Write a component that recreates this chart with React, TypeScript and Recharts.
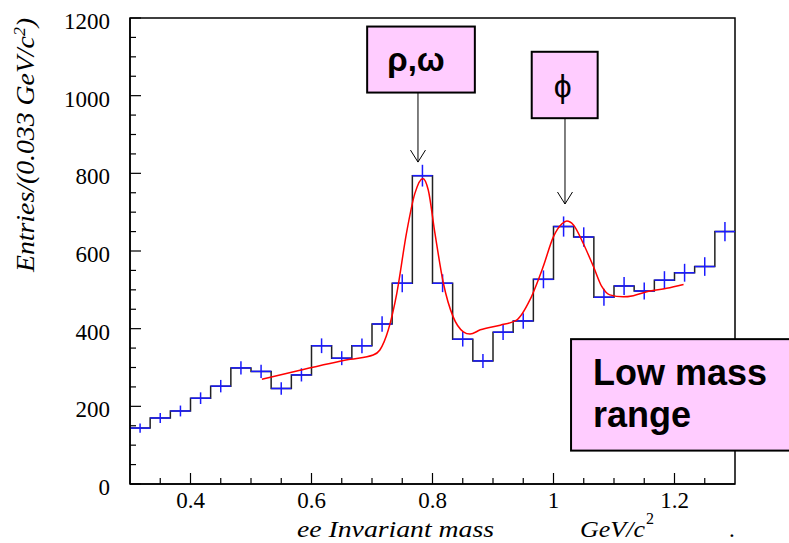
import React from 'react';
import {
  ComposedChart,
  Line,
  Scatter,
  ErrorBar,
  XAxis,
  YAxis,
  ReferenceArea,
  ReferenceLine,
} from 'recharts';

// ---- data ----
const binLowEdges = [
  0.3, 0.3333, 0.3667, 0.4, 0.4333, 0.4667, 0.5, 0.5333, 0.5667, 0.6,
  0.6333, 0.6667, 0.7, 0.7333, 0.7667, 0.8, 0.8333, 0.8667, 0.9, 0.9333,
  0.9667, 1.0, 1.0333, 1.0667, 1.1, 1.1333, 1.1667, 1.2, 1.2333, 1.2667,
];
const histUpperEdge = 1.3;
const binHalfWidth = 0.01667;
const entries = [
  144, 170, 188, 221, 252, 299, 290, 246, 281, 356,
  324, 356, 412, 517, 794, 517, 373, 317, 391, 420,
  527, 663, 636, 481, 510, 497, 525, 544, 560, 650,
];
const entryErrors = [
  12, 13, 14, 15, 16, 17, 17, 16, 17, 19,
  18, 19, 20, 23, 28, 23, 19, 18, 20, 20,
  23, 26, 25, 22, 23, 22, 23, 23, 24, 25,
];

const fitMass = [
  0.518, 0.581, 0.664, 0.702, 0.713, 0.727, 0.741, 0.757, 0.771, 0.784,
  0.793, 0.804, 0.818, 0.834, 0.851, 0.862, 0.879, 0.912, 0.939, 0.961,
  0.983, 1.0, 1.014, 1.022, 1.033, 1.049, 1.066, 1.08, 1.093, 1.115,
  1.132, 1.154, 1.187, 1.215,
];
const fitValue = [
  270, 293, 321, 332, 345, 397, 491, 646, 749, 787,
  757, 646, 517, 431, 392, 386, 397, 409, 422, 474,
  560, 637, 670, 677, 667, 620, 560, 508, 487, 482,
  485, 495, 504, 514,
];

const xMajorTicks = [0.4, 0.6, 0.8, 1, 1.2];
const xAllTicks = [0.35, 0.4, 0.45, 0.5, 0.55, 0.6, 0.65, 0.7, 0.75, 0.8, 0.85, 0.9, 0.95, 1, 1.05, 1.1, 1.15, 1.2, 1.25];
const yMajorTicks = [0, 200, 400, 600, 800, 1000, 1200];
const yAllTicks = [
  0, 50, 100, 150, 200, 250, 300, 350, 400, 450, 500, 550, 600, 650,
  700, 750, 800, 850, 900, 950, 1000, 1050, 1100, 1150, 1200,
];

// annotation boxes & arrows (data coordinates)
const rhoBox = { x1: 0.692, x2: 0.87, y1: 1008, y2: 1178, text: 'ρ,ω' };
const phiBox = { x1: 0.964, x2: 1.073, y1: 942, y2: 1113, text: 'ϕ' };
const rangeBox = { x1: 1.029, x2: 1.41, y1: 86, y2: 373, lines: ['Low mass', 'range'] };
const rhoArrow = { x: 0.776, from: 1008, to: 829 };
const phiArrow = { x: 1.019, from: 942, to: 721 };

// ---- derived tables ----
const histData = [
  ...binLowEdges.map((x, i) => ({ x, y: entries[i] })),
  { x: histUpperEdge, y: entries[entries.length - 1] },
];
const pointData = binLowEdges.map((x, i) => ({
  x: x + binHalfWidth,
  y: entries[i],
  ex: binHalfWidth,
  ey: entryErrors[i],
}));
const fitData = fitMass.map((x, i) => ({ x, y: fitValue[i] }));

const SERIF = '"Liberation Serif", "Times New Roman", serif';
const SANS = '"Liberation Sans", Arial, Helvetica, sans-serif';
const PINK = '#ffccff';

const isMajor = (list: number[], v: number) => list.some((m) => Math.abs(m - v) < 1e-9);

const XTick = (props: any) => {
  const v = props.payload.value;
  const major = isMajor(xMajorTicks, v);
  return (
    <g>
      <line x1={props.x} x2={props.x} y1={props.y} y2={props.y - (major ? 11 : 6)} stroke="#000" strokeWidth={1.2} />
      {major && (
        <text x={props.x} y={props.y + 24} textAnchor="middle" fontFamily={SERIF} fontSize={23} fill="#000">
          {v}
        </text>
      )}
    </g>
  );
};

const YTick = (props: any) => {
  const v = props.payload.value;
  const major = isMajor(yMajorTicks, v);
  return (
    <g>
      <line x1={props.x} x2={props.x + (major ? 11 : 6)} y1={props.y} y2={props.y} stroke="#000" strokeWidth={1.2} />
      {major && (
        <text x={props.x - 20} y={props.y + 11} textAnchor="end" fontFamily={SERIF} fontSize={23} fill="#000">
          {v}
        </text>
      )}
    </g>
  );
};

const YTitle = () => (
  <text
    transform="rotate(-90)"
    x={-145}
    y={34}
    textAnchor="middle"
    fontFamily={SERIF}
    fontStyle="italic"
    fontSize={25}
    fill="#000"
    textLength={254}
    lengthAdjust="spacingAndGlyphs"
  >
    Entries/(0.033 GeV/c
    <tspan dy={-9} fontSize={16}>2</tspan>
    <tspan dy={9}>)</tspan>
  </text>
);

const XTitle = () => (
  <g fontFamily={SERIF} fill="#000">
    <text x={297} y={537} fontStyle="italic" fontSize={23} textLength={197} lengthAdjust="spacingAndGlyphs">
      ee Invariant mass
    </text>
    <text x={580} y={537} fontStyle="italic" fontSize={23} textLength={65} lengthAdjust="spacingAndGlyphs">
      GeV/c
    </text>
    <text x={646} y={524} fontSize={16}>2</text>
    <text x={729} y={537} fontSize={23}>.</text>
  </g>
);

const Arrow = (props: any) => {
  const { x1, y1, x2, y2 } = props;
  return (
    <g stroke="#000" strokeWidth={1} fill="none">
      <line x1={x1} y1={y1} x2={x2} y2={y2} />
      <line x1={x2 - 7.5} y1={y2 - 12} x2={x2} y2={y2} />
      <line x1={x2 + 7.5} y1={y2 - 12} x2={x2} y2={y2} />
    </g>
  );
};

const BoxWithText = (text: string, fontSize: number, bold: boolean, dx: number, dy: number) => (props: any) => {
  const { x, y, width, height } = props;
  return (
    <g>
      <rect x={x} y={y} width={width} height={height} fill={PINK} stroke="#000" strokeWidth={2} />
      <text
        x={x + width / 2 + dx}
        y={y + height / 2 + dy}
        textAnchor="middle"
        fontFamily={SANS}
        fontWeight={bold ? 'bold' : 'normal'}
        fontSize={fontSize}
        fill="#000"
      >
        {text}
      </text>
    </g>
  );
};

const RangeBox = (props: any) => {
  const { x, y, width, height } = props;
  return (
    <g>
      <rect x={x} y={y} width={width} height={height} fill={PINK} stroke="#000" strokeWidth={2} />
      <text fontFamily={SANS} fontWeight="bold" fontSize={36} fill="#000">
        <tspan x={x + 22} y={y + 46}>{rangeBox.lines[0]}</tspan>
        <tspan x={x + 22} y={y + 88}>{rangeBox.lines[1]}</tspan>
      </text>
    </g>
  );
};

export default function App() {
  return (
    <div style={{ position: 'absolute', left: 0, top: 0, width: 789, height: 543, background: '#fff' }}>
      <ComposedChart width={789} height={543} margin={{ top: 18, right: 54, bottom: 0, left: 0 }}>
        <XAxis
          dataKey="x"
          type="number"
          domain={[0.3, 1.3]}
          allowDataOverflow
          ticks={xAllTicks}
          interval={0}
          height={59}
          tickSize={0}
          tickMargin={0}
          tickLine={false}
          axisLine={{ stroke: '#000', strokeWidth: 1.5 }}
          tick={<XTick />}
          label={<XTitle />}
        />
        <YAxis
          dataKey="y"
          type="number"
          domain={[0, 1200]}
          allowDataOverflow
          ticks={yAllTicks}
          interval={0}
          width={130}
          tickSize={0}
          tickMargin={0}
          tickLine={false}
          axisLine={{ stroke: '#000', strokeWidth: 1.5 }}
          tick={<YTick />}
          label={<YTitle />}
        />
        <ReferenceArea
          x1={0.3}
          x2={1.3}
          y1={0}
          y2={1200}
          ifOverflow="visible"
          fill="none"
          fillOpacity={0}
          stroke="#000"
          strokeWidth={1.5}
        />
        <Line
          data={histData}
          dataKey="y"
          type="stepAfter"
          stroke="#222"
          strokeWidth={1.5}
          dot={false}
          activeDot={false}
          isAnimationActive={false}
        />
        <Scatter data={pointData} dataKey="y" shape={() => <g />} isAnimationActive={false}>
          <ErrorBar dataKey="ey" direction="y" width={0} stroke="#1a1aff" strokeWidth={1.5} />
          <ErrorBar dataKey="ex" direction="x" width={0} stroke="#1a1aff" strokeWidth={1.5} />
        </Scatter>
        <Line
          data={fitData}
          dataKey="y"
          type="monotone"
          stroke="#ff0000"
          strokeWidth={1.5}
          dot={false}
          activeDot={false}
          isAnimationActive={false}
        />
        <ReferenceLine
          segment={[{ x: rhoArrow.x, y: rhoArrow.from }, { x: rhoArrow.x, y: rhoArrow.to }]}
          ifOverflow="visible"
          shape={<Arrow />}
        />
        <ReferenceLine
          segment={[{ x: phiArrow.x, y: phiArrow.from }, { x: phiArrow.x, y: phiArrow.to }]}
          ifOverflow="visible"
          shape={<Arrow />}
        />
        <ReferenceArea
          x1={rhoBox.x1}
          x2={rhoBox.x2}
          y1={rhoBox.y1}
          y2={rhoBox.y2}
          ifOverflow="visible"
          shape={BoxWithText(rhoBox.text, 33, true, -5, 11)}
        />
        <ReferenceArea
          x1={phiBox.x1}
          x2={phiBox.x2}
          y1={phiBox.y1}
          y2={phiBox.y2}
          ifOverflow="visible"
          shape={BoxWithText(phiBox.text, 32, false, -2, 12)}
        />
        <ReferenceArea
          x1={rangeBox.x1}
          x2={rangeBox.x2}
          y1={rangeBox.y1}
          y2={rangeBox.y2}
          ifOverflow="visible"
          shape={<RangeBox />}
        />
      </ComposedChart>
    </div>
  );
}
